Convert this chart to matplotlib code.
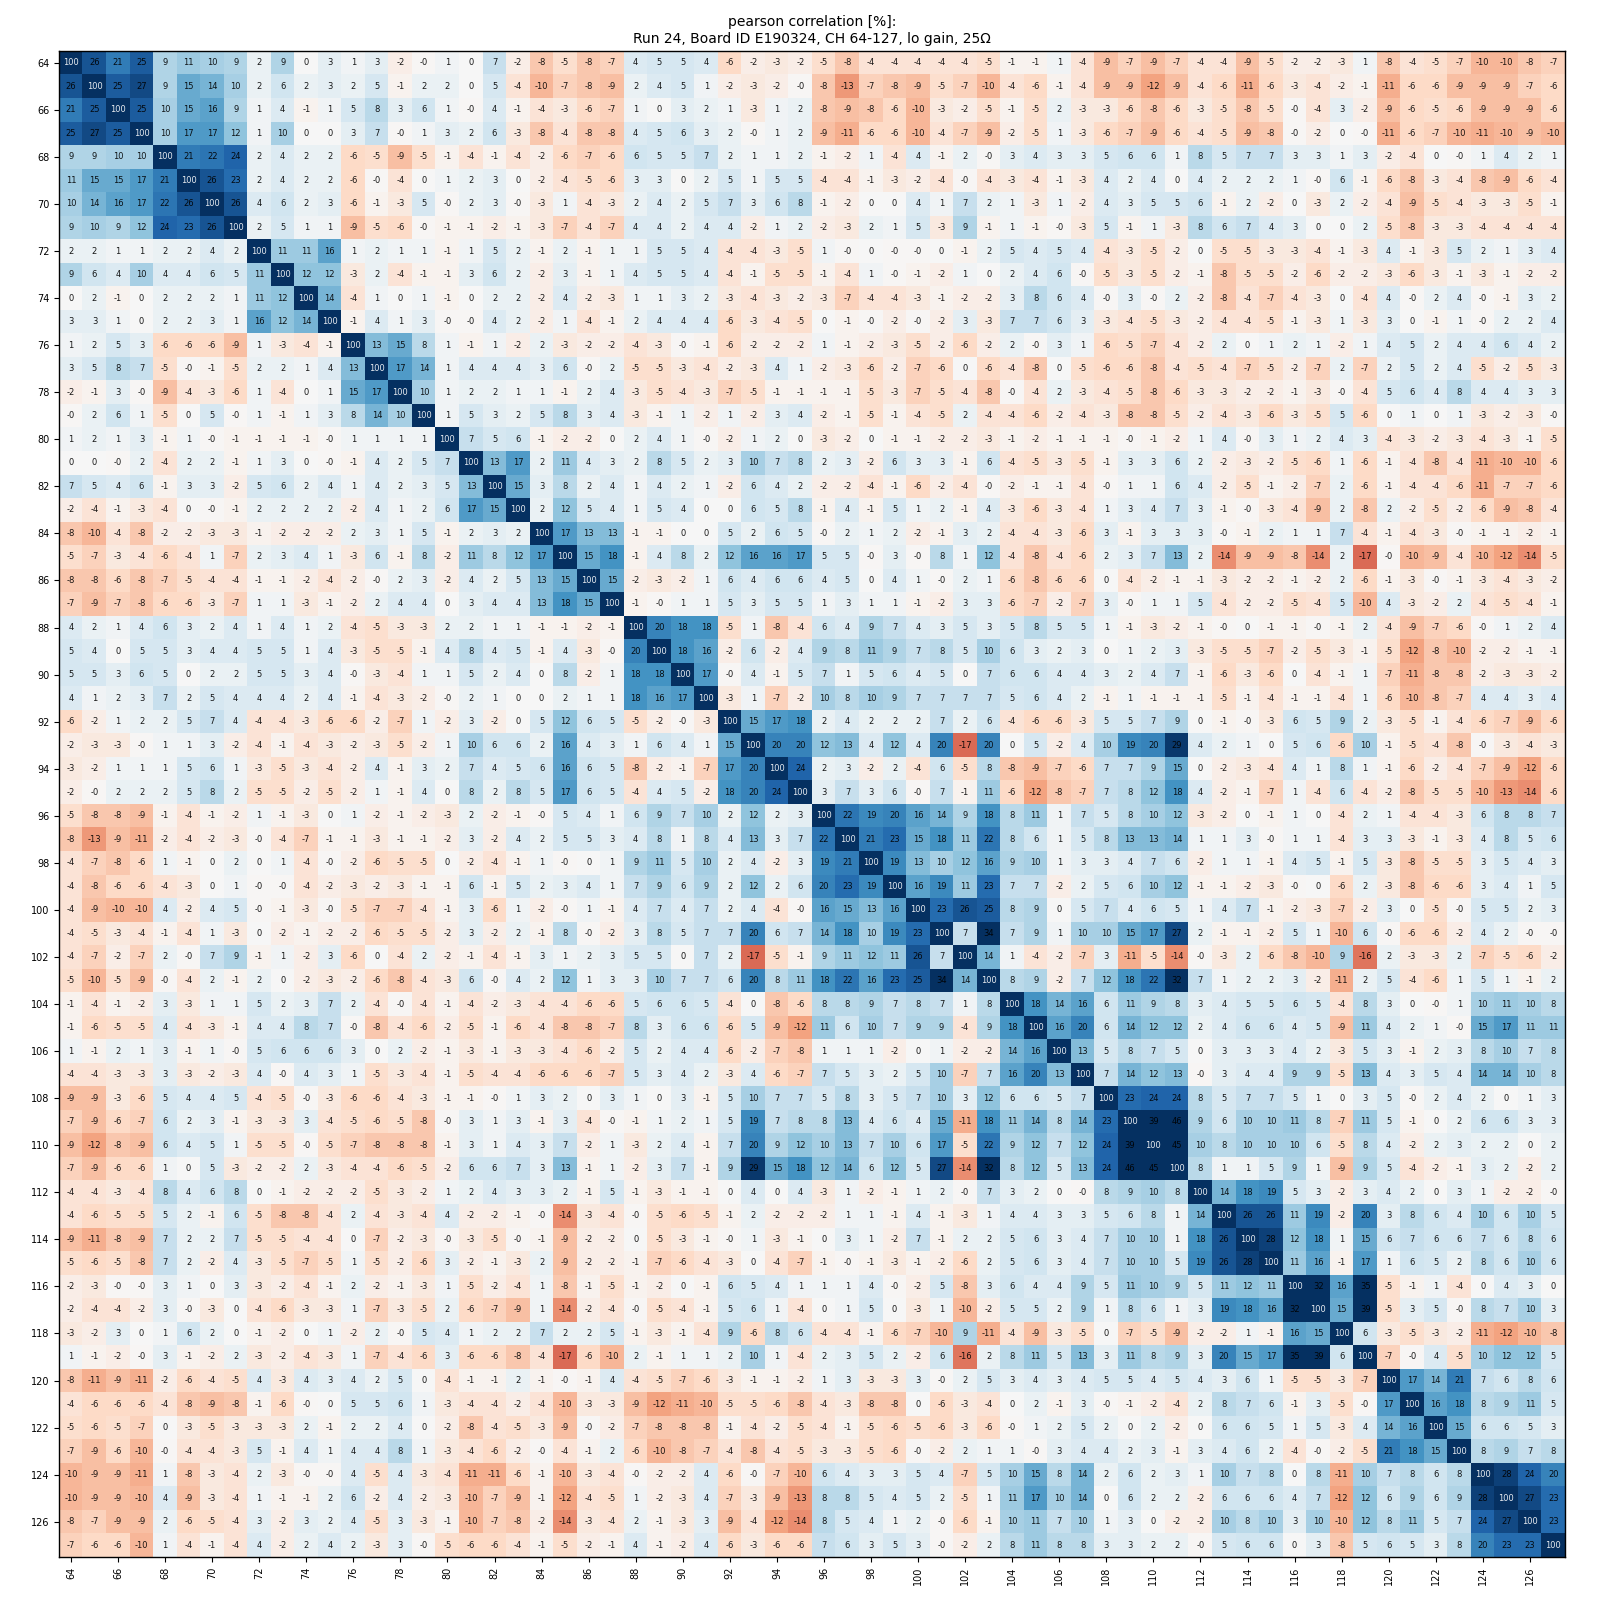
import numpy as np
import matplotlib
matplotlib.use('Agg')
import matplotlib.pyplot as plt

channels = list(range(64, 128))
tick_channels = list(range(64, 128, 2))

title_text = 'pearson correlation [%]:\nRun 24, Board ID E190324, CH 64-127, lo gain, 25Ω'

# Values, -0.3 stands for a printed "-0".
# The matrix is symmetric, so only the upper blocks are kept.
block_a1 = [
    [100, 26, 21, 25, 9, 11, 10, 9, 2, 9, 0, 3, 1, 3, -2, -0.3],
    [26, 100, 25, 27, 9, 15, 14, 10, 2, 6, 2, 3, 2, 5, -1, 2],
    [21, 25, 100, 25, 10, 15, 16, 9, 1, 4, -1, 1, 5, 8, 3, 6],
    [25, 27, 25, 100, 10, 17, 17, 12, 1, 10, 0, 0, 3, 7, -0.3, 1],
    [9, 9, 10, 10, 100, 21, 22, 24, 2, 4, 2, 2, -6, -5, -9, -5],
    [11, 15, 15, 17, 21, 100, 26, 23, 2, 4, 2, 2, -6, -0.3, -4, 0],
    [10, 14, 16, 17, 22, 26, 100, 26, 4, 6, 2, 3, -6, -1, -3, 5],
    [9, 10, 9, 12, 24, 23, 26, 100, 2, 5, 1, 1, -9, -5, -6, -0.3],
    [2, 2, 1, 1, 2, 2, 4, 2, 100, 11, 11, 16, 1, 2, 1, 1],
    [9, 6, 4, 10, 4, 4, 6, 5, 11, 100, 12, 12, -3, 2, -4, -1],
    [0, 2, -1, 0, 2, 2, 2, 1, 11, 12, 100, 14, -4, 1, 0, 1],
    [3, 3, 1, 0, 2, 2, 3, 1, 16, 12, 14, 100, -1, 4, 1, 3],
    [1, 2, 5, 3, -6, -6, -6, -9, 1, -3, -4, -1, 100, 13, 15, 8],
    [3, 5, 8, 7, -5, -0.3, -1, -5, 2, 2, 1, 4, 13, 100, 17, 14],
    [-2, -1, 3, -0.3, -9, -4, -3, -6, 1, -4, 0, 1, 15, 17, 100, 10],
    [-0.3, 2, 6, 1, -5, 0, 5, -0.3, 1, -1, 1, 3, 8, 14, 10, 100],
]
block_a2 = [
    [1, 0, 7, -2, -8, -5, -8, -7, 4, 5, 5, 4, -6, -2, -3, -2],
    [2, 0, 5, -4, -10, -7, -8, -9, 2, 4, 5, 1, -2, -3, -2, -0.3],
    [1, -0.3, 4, -1, -4, -3, -6, -7, 1, 0, 3, 2, 1, -3, 1, 2],
    [3, 2, 6, -3, -8, -4, -8, -8, 4, 5, 6, 3, 2, -0.3, 1, 2],
    [-1, -4, -1, -4, -2, -6, -7, -6, 6, 5, 5, 7, 2, 1, 1, 2],
    [1, 2, 3, 0, -2, -4, -5, -6, 3, 3, 0, 2, 5, 1, 5, 5],
    [-0.3, 2, 3, -0.3, -3, 1, -4, -3, 2, 4, 2, 5, 7, 3, 6, 8],
    [-1, -1, -2, -1, -3, -7, -4, -7, 4, 4, 2, 4, 4, -2, 1, 2],
    [-1, 1, 5, 2, -1, 2, -1, 1, 1, 5, 5, 4, -4, -4, -3, -5],
    [-1, 3, 6, 2, -2, 3, -1, 1, 4, 5, 5, 4, -4, -1, -5, -5],
    [-1, 0, 2, 2, -2, 4, -2, -3, 1, 1, 3, 2, -3, -4, -3, -2],
    [-0.3, -0.3, 4, 2, -2, 1, -4, -1, 2, 4, 4, 4, -6, -3, -4, -5],
    [1, -1, 1, -2, 2, -3, -2, -2, -4, -3, -0.3, -1, -6, -2, -2, -2],
    [1, 4, 4, 4, 3, 6, -0.3, 2, -5, -5, -3, -4, -2, -3, 4, 1],
    [1, 2, 2, 1, 1, -1, 2, 4, -3, -5, -4, -3, -7, -5, -1, -1],
    [1, 5, 3, 2, 5, 8, 3, 4, -3, -1, 1, -2, 1, -2, 3, 4],
]
block_a3 = [
    [-5, -8, -4, -4, -4, -4, -4, -5, -1, -1, 1, -4, -9, -7, -9, -7],
    [-8, -13, -7, -8, -9, -5, -7, -10, -4, -6, -1, -4, -9, -9, -12, -9],
    [-8, -9, -8, -6, -10, -3, -2, -5, -1, -5, 2, -3, -3, -6, -8, -6],
    [-9, -11, -6, -6, -10, -4, -7, -9, -2, -5, 1, -3, -6, -7, -9, -6],
    [-1, -2, 1, -4, 4, -1, 2, -0.3, 3, 4, 3, 3, 5, 6, 6, 1],
    [-4, -4, -1, -3, -2, -4, -0.3, -4, -3, -4, -1, -3, 4, 2, 4, 0],
    [-1, -2, 0, 0, 4, 1, 7, 2, 1, -3, 1, -2, 4, 3, 5, 5],
    [-2, -3, 2, 1, 5, -3, 9, -1, 1, -1, -0.3, -3, 5, -1, 1, -3],
    [1, -0.3, 0, -0.3, -0.3, 0, -1, 2, 5, 4, 5, 4, -4, -3, -5, -2],
    [-1, -4, 1, -0.3, -1, -2, 1, 0, 2, 4, 6, -0.3, -5, -3, -5, -2],
    [-3, -7, -4, -4, -3, -1, -2, -2, 3, 8, 6, 4, -0.3, 3, -0.3, 2],
    [0, -1, -0.3, -2, -0.3, -2, 3, -3, 7, 7, 6, 3, -3, -4, -5, -3],
    [1, -1, -2, -3, -5, -2, -6, -2, 2, -0.3, 3, 1, -6, -5, -7, -4],
    [-2, -3, -6, -2, -7, -6, 0, -6, -4, -8, 0, -5, -6, -6, -8, -4],
    [-1, -1, -5, -3, -7, -5, -4, -8, -0.3, -4, 2, -3, -4, -5, -8, -6],
    [-2, -1, -5, -1, -4, -5, 2, -4, -4, -6, -2, -4, -3, -8, -8, -5],
]
block_a4 = [
    [-4, -4, -9, -5, -2, -2, -3, 1, -8, -4, -5, -7, -10, -10, -8, -7],
    [-4, -6, -11, -6, -3, -4, -2, -1, -11, -6, -6, -9, -9, -9, -7, -6],
    [-3, -5, -8, -5, -0.3, -4, 3, -2, -9, -6, -5, -6, -9, -9, -9, -6],
    [-4, -5, -9, -8, -0.3, -2, 0, -0.3, -11, -6, -7, -10, -11, -10, -9, -10],
    [8, 5, 7, 7, 3, 3, 1, 3, -2, -4, 0, -0.3, 1, 4, 2, 1],
    [4, 2, 2, 2, 1, -0.3, 6, -1, -6, -8, -3, -4, -8, -9, -6, -4],
    [6, -1, 2, -2, 0, -3, 2, -2, -4, -9, -5, -4, -3, -3, -5, -1],
    [8, 6, 7, 4, 3, 0, 0, 2, -5, -8, -3, -3, -4, -4, -4, -4],
    [0, -5, -5, -3, -3, -4, -1, -3, 4, -1, -3, 5, 2, 1, 3, 4],
    [-1, -8, -5, -5, -2, -6, -2, -2, -3, -6, -3, -1, -3, -1, -2, -2],
    [-2, -8, -4, -7, -4, -3, 0, -4, 4, -0.3, 2, 4, -0.3, -1, 3, 2],
    [-2, -4, -4, -5, -1, -3, 1, -3, 3, 0, -1, 1, -0.3, 2, 2, 4],
    [-2, 2, 0, 1, 2, 1, -2, 1, 4, 5, 2, 4, 4, 6, 4, 2],
    [-5, -4, -7, -5, -2, -7, 2, -7, 2, 5, 2, 4, -5, -2, -5, -3],
    [-3, -3, -2, -2, -1, -3, -0.3, -4, 5, 6, 4, 8, 4, 4, 3, 3],
    [-2, -4, -3, -6, -3, -5, 5, -6, 0, 1, 0, 1, -3, -2, -3, -0.3],
]
block_b2 = [
    [100, 7, 5, 6, -1, -2, -2, 0, 2, 4, 1, -0.3, -2, 1, 2, 0],
    [7, 100, 13, 17, 2, 11, 4, 3, 2, 8, 5, 2, 3, 10, 7, 8],
    [5, 13, 100, 15, 3, 8, 2, 4, 1, 4, 2, 1, -2, 6, 4, 2],
    [6, 17, 15, 100, 2, 12, 5, 4, 1, 5, 4, 0, 0, 6, 5, 8],
    [-1, 2, 3, 2, 100, 17, 13, 13, -1, -1, 0, 0, 5, 2, 6, 5],
    [-2, 11, 8, 12, 17, 100, 15, 18, -1, 4, 8, 2, 12, 16, 16, 17],
    [-2, 4, 2, 5, 13, 15, 100, 15, -2, -3, -2, 1, 6, 4, 6, 6],
    [0, 3, 4, 4, 13, 18, 15, 100, -1, -0.3, 1, 1, 5, 3, 5, 5],
    [2, 2, 1, 1, -1, -1, -2, -1, 100, 20, 18, 18, -5, 1, -8, -4],
    [4, 8, 4, 5, -1, 4, -3, -0.3, 20, 100, 18, 16, -2, 6, -2, 4],
    [1, 5, 2, 4, 0, 8, -2, 1, 18, 18, 100, 17, -0.3, 4, -1, 5],
    [-0.3, 2, 1, 0, 0, 2, 1, 1, 18, 16, 17, 100, -3, 1, -7, -2],
    [-2, 3, -2, 0, 5, 12, 6, 5, -5, -2, -0.3, -3, 100, 15, 17, 18],
    [1, 10, 6, 6, 2, 16, 4, 3, 1, 6, 4, 1, 15, 100, 20, 20],
    [2, 7, 4, 5, 6, 16, 6, 5, -8, -2, -1, -7, 17, 20, 100, 24],
    [0, 8, 2, 8, 5, 17, 6, 5, -4, 4, 5, -2, 18, 20, 24, 100],
]
block_b3 = [
    [-3, -2, 0, -1, -1, -2, -2, -3, -1, -2, -1, -1, -1, -0.3, -1, -2],
    [2, 3, -2, 6, 3, 3, -1, 6, -4, -5, -3, -5, -1, 3, 3, 6],
    [-2, -2, -4, -1, -6, -2, -4, -0.3, -2, -1, -1, -4, -0.3, 1, 1, 6],
    [-1, 4, -1, 5, 1, 2, -1, 4, -3, -6, -3, -4, 1, 3, 4, 7],
    [-0.3, 2, 1, 2, -2, -1, 3, 2, -4, -4, -3, -6, 3, -1, 3, 3],
    [5, 5, -0.3, 3, -0.3, 8, 1, 12, -4, -8, -4, -6, 2, 3, 7, 13],
    [4, 5, 0, 4, 1, -0.3, 2, 1, -6, -8, -6, -6, 0, -4, -2, -1],
    [1, 3, 1, 1, -1, -2, 3, 3, -6, -7, -2, -7, 3, -0.3, 1, 1],
    [6, 4, 9, 7, 4, 3, 5, 3, 5, 8, 5, 5, 1, -1, -3, -2],
    [9, 8, 11, 9, 7, 8, 5, 10, 6, 3, 2, 3, 0, 1, 2, 3],
    [7, 1, 5, 6, 4, 5, 0, 7, 6, 6, 4, 4, 3, 2, 4, 7],
    [10, 8, 10, 9, 7, 7, 7, 7, 5, 6, 4, 2, -1, 1, -1, -1],
    [2, 4, 2, 2, 2, 7, 2, 6, -4, -6, -6, -3, 5, 5, 7, 9],
    [12, 13, 4, 12, 4, 20, -17, 20, 0, 5, -2, 4, 10, 19, 20, 29],
    [2, 3, -2, 2, -4, 6, -5, 8, -8, -9, -7, -6, 7, 7, 9, 15],
    [3, 7, 3, 6, -0.3, 7, -1, 11, -6, -12, -8, -7, 7, 8, 12, 18],
]
block_b4 = [
    [1, 4, -0.3, 3, 1, 2, 4, 3, -4, -3, -2, -3, -4, -3, -1, -5],
    [2, -2, -3, -2, -5, -6, 1, -6, -1, -4, -8, -4, -11, -10, -10, -6],
    [4, -2, -5, -1, -2, -7, 2, -6, -1, -4, -4, -6, -11, -7, -7, -6],
    [3, -1, -0.3, -3, -4, -9, 2, -8, 2, -2, -5, -2, -6, -9, -8, -4],
    [3, -0.3, -1, 2, 1, 1, 7, -4, -1, -4, -3, -0.3, -1, -1, -2, -1],
    [2, -14, -9, -9, -8, -14, 2, -17, -0.3, -10, -9, -4, -10, -12, -14, -5],
    [-1, -3, -2, -2, -1, -2, 2, -6, -1, -3, -0.3, -1, -3, -4, -3, -2],
    [5, -4, -2, -2, -5, -4, 5, -10, 4, -3, -2, 2, -4, -5, -4, -1],
    [-1, -0.3, 0, -1, -1, -0.3, -1, 2, -4, -9, -7, -6, -0.3, 1, 2, 4],
    [-3, -5, -5, -7, -2, -5, -3, -1, -5, -12, -8, -10, -2, -2, -1, -1],
    [-1, -6, -3, -6, 0, -4, -1, 1, -7, -11, -8, -8, -2, -3, -3, -2],
    [-1, -5, -1, -4, -1, -1, -4, 1, -6, -10, -8, -7, 4, 4, 3, 4],
    [0, -1, -0.3, -3, 6, 5, 9, 2, -3, -5, -1, -4, -6, -7, -9, -6],
    [4, 2, 1, 0, 5, 6, -6, 10, -1, -5, -4, -8, -0.3, -3, -4, -3],
    [0, -2, -3, -4, 4, 1, 8, 1, -1, -6, -2, -4, -7, -9, -12, -6],
    [4, -2, -1, -7, 1, -4, 6, -4, -2, -8, -5, -5, -10, -13, -14, -6],
]
block_c3 = [
    [100, 22, 19, 20, 16, 14, 9, 18, 8, 11, 1, 7, 5, 8, 10, 12],
    [22, 100, 21, 23, 15, 18, 11, 22, 8, 6, 1, 5, 8, 13, 13, 14],
    [19, 21, 100, 19, 13, 10, 12, 16, 9, 10, 1, 3, 3, 4, 7, 6],
    [20, 23, 19, 100, 16, 19, 11, 23, 7, 7, -2, 2, 5, 6, 10, 12],
    [16, 15, 13, 16, 100, 23, 26, 25, 8, 9, 0, 5, 7, 4, 6, 5],
    [14, 18, 10, 19, 23, 100, 7, 34, 7, 9, 1, 10, 10, 15, 17, 27],
    [9, 11, 12, 11, 26, 7, 100, 14, 1, -4, -2, -7, 3, -11, -5, -14],
    [18, 22, 16, 23, 25, 34, 14, 100, 8, 9, -2, 7, 12, 18, 22, 32],
    [8, 8, 9, 7, 8, 7, 1, 8, 100, 18, 14, 16, 6, 11, 9, 8],
    [11, 6, 10, 7, 9, 9, -4, 9, 18, 100, 16, 20, 6, 14, 12, 12],
    [1, 1, 1, -2, 0, 1, -2, -2, 14, 16, 100, 13, 5, 8, 7, 5],
    [7, 5, 3, 2, 5, 10, -7, 7, 16, 20, 13, 100, 7, 14, 12, 13],
    [5, 8, 3, 5, 7, 10, 3, 12, 6, 6, 5, 7, 100, 23, 24, 24],
    [8, 13, 4, 6, 4, 15, -11, 18, 11, 14, 8, 14, 23, 100, 39, 46],
    [10, 13, 7, 10, 6, 17, -5, 22, 9, 12, 7, 12, 24, 39, 100, 45],
    [12, 14, 6, 12, 5, 27, -14, 32, 8, 12, 5, 13, 24, 46, 45, 100],
]
block_c4 = [
    [-3, -2, 0, -1, 1, 0, -4, 2, 1, -4, -4, -3, 6, 8, 8, 7],
    [1, 1, 3, -0.3, 1, 1, -4, 3, 3, -3, -1, -3, 4, 8, 5, 6],
    [-2, 1, 1, -1, 4, 5, -1, 5, -3, -8, -5, -5, 3, 5, 4, 3],
    [-1, -1, -2, -3, -0.3, 0, -6, 2, -3, -8, -6, -6, 3, 4, 1, 5],
    [1, 4, 7, -1, -2, -3, -7, -2, 3, 0, -5, -0.3, 5, 5, 2, 3],
    [2, -1, -1, -2, 5, 1, -10, 6, -0.3, -6, -6, -2, 4, 2, -0.3, -0.3],
    [-0.3, -3, 2, -6, -8, -10, 9, -16, 2, -3, -3, 2, -7, -5, -6, -2],
    [7, 1, 2, 2, 3, -2, -11, 2, 5, -4, -6, 1, 5, 1, -1, 2],
    [3, 4, 5, 5, 6, 5, -4, 8, 3, 0, -0.3, 1, 10, 11, 10, 8],
    [2, 4, 6, 6, 4, 5, -9, 11, 4, 2, 1, -0.3, 15, 17, 11, 11],
    [0, 3, 3, 3, 4, 2, -3, 5, 3, -1, 2, 3, 8, 10, 7, 8],
    [-0.3, 3, 4, 4, 9, 9, -5, 13, 4, 3, 5, 4, 14, 14, 10, 8],
    [8, 5, 7, 7, 5, 1, 0, 3, 5, -0.3, 2, 4, 2, 0, 1, 3],
    [9, 6, 10, 10, 11, 8, -7, 11, 5, -1, 0, 2, 6, 6, 3, 3],
    [10, 8, 10, 10, 10, 6, -5, 8, 4, -2, 2, 3, 2, 2, 0, 2],
    [8, 1, 1, 5, 9, 1, -9, 9, 5, -4, -2, -1, 3, 2, -2, 2],
]
block_d4 = [
    [100, 14, 18, 19, 5, 3, -2, 3, 4, 2, 0, 3, 1, -2, -2, -0.3],
    [14, 100, 26, 26, 11, 19, -2, 20, 3, 8, 6, 4, 10, 6, 10, 5],
    [18, 26, 100, 28, 12, 18, 1, 15, 6, 7, 6, 6, 7, 6, 8, 6],
    [19, 26, 28, 100, 11, 16, -1, 17, 1, 6, 5, 2, 8, 6, 10, 6],
    [5, 11, 12, 11, 100, 32, 16, 35, -5, -1, 1, -4, 0, 4, 3, 0],
    [3, 19, 18, 16, 32, 100, 15, 39, -5, 3, 5, -0.3, 8, 7, 10, 3],
    [-2, -2, 1, -1, 16, 15, 100, 6, -3, -5, -3, -2, -11, -12, -10, -8],
    [3, 20, 15, 17, 35, 39, 6, 100, -7, -0.3, 4, -5, 10, 12, 12, 5],
    [4, 3, 6, 1, -5, -5, -3, -7, 100, 17, 14, 21, 7, 6, 8, 6],
    [2, 8, 7, 6, -1, 3, -5, -0.3, 17, 100, 16, 18, 8, 9, 11, 5],
    [0, 6, 6, 5, 1, 5, -3, 4, 14, 16, 100, 15, 6, 6, 5, 3],
    [3, 4, 6, 2, -4, -0.3, -2, -5, 21, 18, 15, 100, 8, 9, 7, 8],
    [1, 10, 7, 8, 0, 8, -11, 10, 7, 8, 6, 8, 100, 28, 24, 20],
    [-2, 6, 6, 6, 4, 7, -12, 12, 6, 9, 6, 9, 28, 100, 27, 23],
    [-2, 10, 8, 10, 3, 10, -10, 12, 8, 11, 5, 7, 24, 27, 100, 23],
    [-0.3, 5, 6, 6, 0, 3, -8, 5, 6, 5, 3, 8, 20, 23, 23, 100],
]

a1, a2, a3, a4 = [np.array(b, dtype=float) for b in (block_a1, block_a2, block_a3, block_a4)]
b2, b3, b4 = [np.array(b, dtype=float) for b in (block_b2, block_b3, block_b4)]
c3, c4 = [np.array(b, dtype=float) for b in (block_c3, block_c4)]
d4 = np.array(block_d4, dtype=float)

corr = np.block([
    [a1, a2, a3, a4],
    [a2.T, b2, b3, b4],
    [a3.T, b3.T, c3, c4],
    [a4.T, b4.T, c4.T, d4],
])

fig = plt.figure(figsize=(16, 16), dpi=100)
ax = fig.add_axes([59.2 / 1600, 1 - 1557 / 1600, 1506 / 1600, 1506 / 1600])
ax.imshow(corr, cmap='RdBu', vmin=-30, vmax=30, interpolation='nearest', aspect='equal')

for i in range(len(channels)):
    for j in range(len(channels)):
        val = corr[i, j]
        ax.text(j, i, f'{val:.0f}', ha='center', va='center', fontsize=6,
                color='white' if val > 50 else 'black', alpha=0.9)

ticks = [channels.index(c) for c in tick_channels]
ax.set_xticks(ticks)
ax.set_xticklabels(tick_channels, rotation=90, fontsize=7)
ax.set_yticks(ticks)
ax.set_yticklabels(tick_channels, fontsize=7)
ax.set_title(title_text, fontsize=10, pad=6)

for spine in ax.spines.values():
    spine.set_linewidth(1.0)

plt.savefig('out.png', dpi=100)
